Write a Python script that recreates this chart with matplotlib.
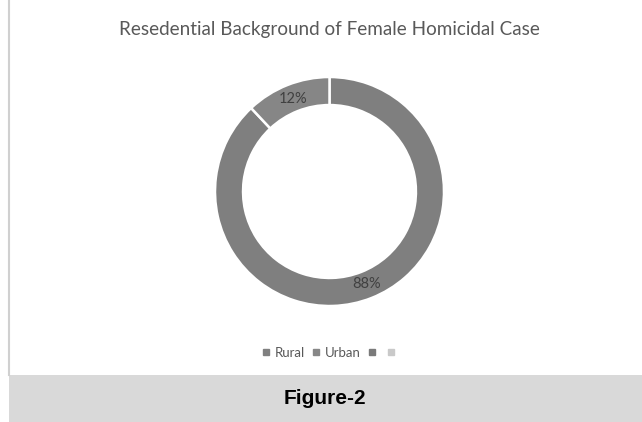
import matplotlib
matplotlib.use("Agg")
import matplotlib.pyplot as plt
from matplotlib.lines import Line2D
from matplotlib.patches import Rectangle

title = "Resedential Background of Female Homicidal Case"
categories = ["Rural", "Urban", "", ""]
shares = [88, 12]
slice_colors = ["#7f7f7f", "#868686"]
legend_colors = ["#808080", "#878787", "#7a7a7a", "#c9c9c9"]
caption = "Figure-2"

W, H = 642, 422
fig = plt.figure(figsize=(W / 100, H / 100), dpi=100)
fig.patch.set_facecolor("white")

# frame bits: left rule and grey caption band
fig.add_artist(Line2D([9 / W, 9 / W], [(H - 375) / H, 1], transform=fig.transFigure,
                      color="#d0d0d0", lw=1.5))
fig.add_artist(Rectangle((9 / W, 0), 1 - 9 / W, (H - 375) / H, transform=fig.transFigure,
                         facecolor="#d9d9d9", edgecolor="none"))

fig.text(329 / W, 1 - 29 / H, title, ha="center", va="center",
         fontsize=13.6, color="#595959", family="Lato")

cx, cy, r = 329.5, 191.5, 114.5
ax = fig.add_axes([(cx - r) / W, (H - cy - r) / H, 2 * r / W, 2 * r / H])
wedges, texts, autotexts = ax.pie(
    shares, colors=slice_colors, startangle=90, counterclock=False,
    radius=1, autopct="%d%%", pctdistance=0.87,
    wedgeprops=dict(width=0.245, edgecolor="white", linewidth=1.8),
    textprops=dict(fontsize=10.5, color="#404040", family="Lato"))
ax.set_xlim(-1, 1)
ax.set_ylim(-1, 1)
ax.axis("off")

handles = [Line2D([], [], marker="s", linestyle="none", markersize=5,
                  markerfacecolor=c, markeredgecolor=c) for c in legend_colors]
fig.legend(handles, categories, loc="center", bbox_to_anchor=(331 / W, 1 - 353 / H),
           ncol=4, frameon=False, handlelength=0.6, handletextpad=0.35,
           columnspacing=0.55, prop=dict(family="Lato", size=9.5), labelcolor="#595959")

fig.text(325 / W, 1 - 398 / H, caption, ha="center", va="center",
         fontsize=15, fontweight="bold", family="Liberation Sans", color="black")

fig.savefig("out.png", dpi=100)
